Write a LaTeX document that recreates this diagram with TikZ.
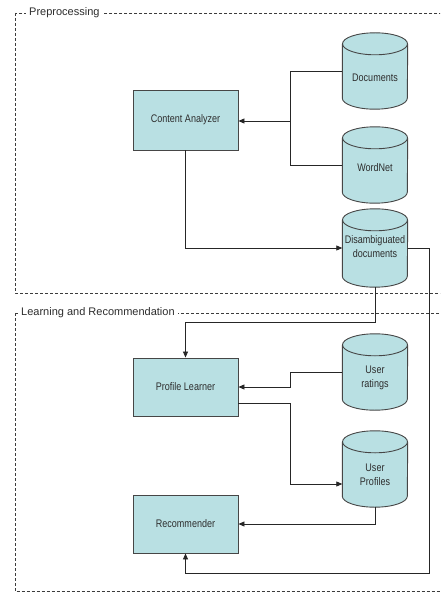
\documentclass[tikz,border=0pt]{standalone}
\usepackage{fontspec}
\setmainfont{Liberation Sans}
\newfontfamily\boxfont{Liberation Sans}[FakeStretch=0.82]
\usetikzlibrary{arrows.meta}
\definecolor{cy}{RGB}{185,224,227}
\definecolor{edge}{RGB}{70,70,70}
\definecolor{txt}{RGB}{45,45,45}
\definecolor{framec}{RGB}{60,60,60}
\tikzset{
  procbox/.style={draw=edge, fill=cy, line width=0.9pt, minimum width=105pt, minimum height=58pt, inner sep=0pt,
    font=\boxfont\fontsize{11}{13.5}\selectfont, text=txt},
  cylnode/.style={minimum width=65pt, minimum height=76pt, inner sep=0pt, draw=none},
  cyltext/.style={font=\boxfont\fontsize{11}{13.5}\selectfont, text=txt, align=center, inner sep=0pt},
  cylline/.style={draw=edge, line width=0.9pt},
  conn/.style={draw=black!85, line width=0.8pt},
  arr/.style={conn, -{Triangle[length=6pt,width=5pt]}},
  frame/.style={draw=framec, line width=0.7pt, dash pattern=on 3pt off 2pt},
  flabel/.style={fill=white, inner xsep=3pt, inner ysep=1pt, font=\fontsize{11}{13}\selectfont, text=txt}
}
\newcommand{\cylshape}[1]{%
  \path[fill=cy] ([yshift=-11pt]#1.north west) -- ([yshift=11pt]#1.south west)
    arc[start angle=180,end angle=360,x radius=32.5pt,y radius=11pt]
    -- ([yshift=-11pt]#1.north east)
    arc[start angle=0,end angle=180,x radius=32.5pt,y radius=11pt] -- cycle;
  \draw[cylline] ([yshift=-11pt]#1.north west) -- ([yshift=11pt]#1.south west)
    arc[start angle=180,end angle=360,x radius=32.5pt,y radius=11pt]
    -- ([yshift=-11pt]#1.north east);
  \draw[cylline] ([yshift=-11pt]#1.north) ellipse[x radius=32.5pt,y radius=11pt];
}
\begin{document}
\begin{tikzpicture}[x=1pt,y=1pt]
\useasboundingbox (0,0) rectangle (440,-593);
\clip (0,0) rectangle (440,-593);
\fill[white] (0,0) rectangle (440,-593);

% frames
\draw[frame] (15,-13) rectangle (446,-293);
\node[flabel, anchor=west] (lblpre) at (26,-13) {Preprocessing};
\draw[frame] (15,-313) rectangle (446,-591.5);
\node[flabel, anchor=west] (lbllr) at (18,-313) {Learning and Recommendation};

% process boxes
\node[procbox, minimum height=60pt] (CA) at (185.5,-120) {Content Analyzer};
\node[procbox] (PL) at (185.5,-387) {Profile Learner};
\node[procbox] (Rec) at (185.5,-524) {Recommender};

% cylinders
\node[cylnode] (docs) at (375,-71) {};
\node[cylnode] (wn) at (375,-165) {};
\node[cylnode, minimum height=78pt] (dis) at (375,-248) {};
\node[cylnode] (ur) at (375,-372) {};
\node[cylnode] (up) at (375,-469) {};
\cylshape{docs}
\cylshape{wn}
\cylshape{dis}
\cylshape{ur}
\cylshape{up}
\node[cyltext] (docsT) at (375,-78) {Documents};
\node[cyltext] (wnT) at (375,-168) {WordNet};
\node[cyltext] (disT) at (375,-246.5) {Disambiguated\\documents};
\node[cyltext] (urT) at (375,-378) {User\\ratings};
\node[cyltext] (upT) at (375,-475) {User\\Profiles};

% connectors
\coordinate (j1) at (290,-121);
\draw[conn] (docs.west) -| (j1);
\draw[conn] (wn.west) -| (j1);
\draw[arr] (j1) -- (CA.east |- j1);

\draw[arr] (CA.south) |- (dis.west);

\coordinate (c3) at (429,-573);
\draw[arr] (dis.east) -| (c3) -| (Rec.south);

\coordinate (c4) at (375,-322);
\draw[arr] (dis.south) -- (c4) -| (PL.north);

\coordinate (j5) at (290,-387);
\draw[arr] (ur.west) -| (j5) -- (PL.east |- j5);

\coordinate (s6) at ([yshift=-16pt]PL.east);
\coordinate (j6) at (290,-484);
\draw[arr] (s6) -| (j6) -- (up.west |- j6);

\coordinate (c7) at (375,-524);
\draw[arr] (up.south) -- (c7) -- (Rec.east);
\end{tikzpicture}
\end{document}
